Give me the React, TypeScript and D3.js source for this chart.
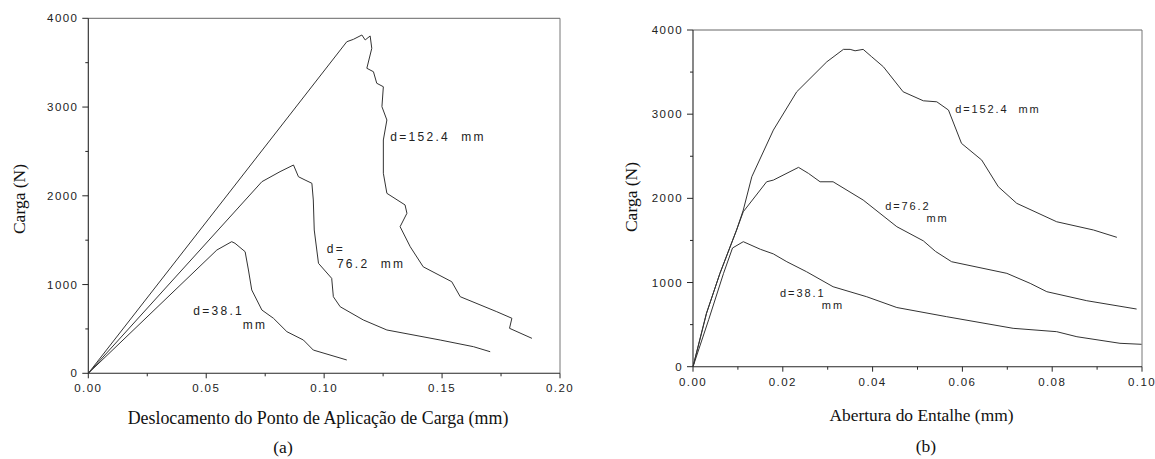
import React from 'react';
import * as d3 from 'd3';

// ---------- Panel (a): load vs. load-point displacement ----------
const dispA152 = [0, 0.1096, 0.1124, 0.1160, 0.1174, 0.1195, 0.1202, 0.1181, 0.1209, 0.1223, 0.1251, 0.1245, 0.1266, 0.1251, 0.1251, 0.1266, 0.1343, 0.1351, 0.1322, 0.1365, 0.1420, 0.1541, 0.1577, 0.1732, 0.1796, 0.1786, 0.1881];
const loadA152 = [0, 3736, 3763, 3812, 3756, 3801, 3662, 3437, 3398, 3268, 3229, 3004, 2854, 2629, 2254, 2028, 1897, 1803, 1652, 1426, 1200, 1032, 863, 694, 620, 507, 394];

const dispA76 = [0, 0.0736, 0.0813, 0.0870, 0.0891, 0.0919, 0.0948, 0.0954, 0.0958, 0.0976, 0.1032, 0.1039, 0.1068, 0.1166, 0.1266, 0.1492, 0.1633, 0.1704];
const loadA76 = [0, 2159, 2272, 2347, 2215, 2178, 2141, 1953, 1615, 1239, 1070, 863, 750, 601, 488, 375, 300, 243];

const dispA38 = [0, 0.0545, 0.0608, 0.0622, 0.0665, 0.0679, 0.0693, 0.0736, 0.0785, 0.0842, 0.0912, 0.0954, 0.1096];
const loadA38 = [0, 1389, 1483, 1465, 1370, 1164, 939, 713, 620, 469, 375, 262, 150];

// ---------- Panel (b): load vs. notch opening ----------
const openB152 = [0, 0.0030, 0.0060, 0.0097, 0.0112, 0.0131, 0.0179, 0.0231, 0.0298, 0.0335, 0.0350, 0.0361, 0.0379, 0.0398, 0.0424, 0.0468, 0.0513, 0.0543, 0.0569, 0.0598, 0.0643, 0.0680, 0.0721, 0.0810, 0.0892, 0.0944];
const loadB152 = [0, 634, 1109, 1623, 1861, 2257, 2811, 3266, 3622, 3770, 3770, 3753, 3770, 3682, 3563, 3266, 3159, 3147, 3049, 2653, 2455, 2138, 1941, 1722, 1624, 1537];

const openB76 = [0, 0.0030, 0.0060, 0.0097, 0.0112, 0.0164, 0.0179, 0.0235, 0.0257, 0.0283, 0.0312, 0.0379, 0.0454, 0.0513, 0.0540, 0.0576, 0.0699, 0.0751, 0.0788, 0.0877, 0.0988];
const loadB76 = [0, 634, 1109, 1623, 1841, 2197, 2217, 2368, 2297, 2197, 2197, 1980, 1663, 1495, 1370, 1247, 1109, 990, 891, 784, 685];

const openB38 = [0, 0.0035, 0.0068, 0.0088, 0.0112, 0.0150, 0.0179, 0.0209, 0.0253, 0.0312, 0.0387, 0.0454, 0.0565, 0.0713, 0.0810, 0.0855, 0.0951, 0.0999];
const loadB38 = [0, 560, 1109, 1410, 1485, 1395, 1340, 1247, 1128, 950, 831, 703, 594, 456, 416, 356, 278, 266];

// ---------- Axes ----------
const loadTicks = [0, 1000, 2000, 3000, 4000];
const loadTickLabels = ['0', '1000', '2000', '3000', '4000'];
const loadMinor = [500, 1500, 2500, 3500];

const dispTicks = [0, 0.05, 0.1, 0.15, 0.2];
const dispTickLabels = ['0.00', '0.05', '0.10', '0.15', '0.20'];
const dispMinor = [0.025, 0.075, 0.125, 0.175];

const openTicks = [0, 0.02, 0.04, 0.06, 0.08, 0.1];
const openTickLabels = ['0.00', '0.02', '0.04', '0.06', '0.08', '0.10'];
const openMinor = [0.01, 0.03, 0.05, 0.07, 0.09];

const TICK_FONT = '"Liberation Sans", Arial, sans-serif';
const TITLE_FONT = '"Liberation Serif", "Times New Roman", serif';
const INK = '#262626';

type Series = { xs: number[]; ys: number[] };
type Note = { x: number; y: number; text: string };

type PanelProps = {
  box: { left: number; right: number; top: number; bottom: number };
  xMax: number;
  xTicks: number[];
  xTickLabels: string[];
  xMinor: number[];
  series: Series[];
  notes: Note[];
  noteSize: number;
  noteSpacing: number;
  xTitle: string;
  xTitleX: number;
  xTitleY: number;
  titleSize: number;
  caption: string;
  captionX: number;
  captionY: number;
  yTitleX: number;
  yTitleY: number;
};

function Panel(p: PanelProps) {
  const { left, right, top, bottom } = p.box;
  const x = d3.scaleLinear().domain([0, p.xMax]).range([left, right]);
  const y = d3.scaleLinear().domain([0, 4000]).range([bottom, top]);
  const line = d3
    .line<[number, number]>()
    .x((d) => x(d[0]))
    .y((d) => y(d[1]))
    .curve(d3.curveLinear);

  return (
    <g>
      {/* frame */}
      <line x1={left} x2={right} y1={top} y2={top} stroke="#666" strokeWidth={1} />
      <line x1={right} x2={right} y1={top} y2={bottom} stroke="#777" strokeWidth={1} />
      <line x1={left} x2={left} y1={top} y2={bottom} stroke={INK} strokeWidth={1.1} />
      <line x1={left} x2={right} y1={bottom} y2={bottom} stroke={INK} strokeWidth={1.1} />

      {/* load axis */}
      {loadTicks.map((t, i) => (
        <g key={'yt' + t}>
          <line x1={left - 6} x2={left} y1={y(t)} y2={y(t)} stroke={INK} />
          <text
            x={left - 10}
            y={y(t)}
            dy="0.35em"
            textAnchor="end"
            fontFamily={TICK_FONT}
            fontSize={11.5}
            letterSpacing={1.4}
            fill="#222"
          >
            {loadTickLabels[i]}
          </text>
        </g>
      ))}
      {loadMinor.map((t) => (
        <line key={'ym' + t} x1={left - 3} x2={left} y1={y(t)} y2={y(t)} stroke={INK} />
      ))}

      {/* abscissa */}
      {p.xTicks.map((t, i) => (
        <g key={'xt' + t}>
          <line x1={x(t)} x2={x(t)} y1={bottom} y2={bottom + 5} stroke={INK} />
          <text
            x={x(t)}
            y={bottom + 15}
            dy="0.35em"
            textAnchor="middle"
            fontFamily={TICK_FONT}
            fontSize={11.5}
            letterSpacing={1.4}
            fill="#222"
          >
            {p.xTickLabels[i]}
          </text>
        </g>
      ))}
      {p.xMinor.map((t) => (
        <line key={'xm' + t} x1={x(t)} x2={x(t)} y1={bottom} y2={bottom + 3} stroke={INK} />
      ))}

      {/* curves */}
      {p.series.map((s, i) => (
        <path
          key={'s' + i}
          d={line(s.xs.map((v, j) => [v, s.ys[j]] as [number, number])) || ''}
          fill="none"
          stroke="#333"
          strokeWidth={1}
          strokeLinejoin="round"
        />
      ))}

      {/* curve annotations */}
      {p.notes.map((n, i) => (
        <text
          key={'n' + i}
          x={x(n.x)}
          y={y(n.y)}
          fontFamily={TICK_FONT}
          fontSize={p.noteSize}
          letterSpacing={p.noteSpacing}
          fill="#222"
          style={{ whiteSpace: 'pre' }}
        >
          {n.text}
        </text>
      ))}

      {/* titles */}
      <text
        transform={`translate(${p.yTitleX},${p.yTitleY}) rotate(-90)`}
        textAnchor="middle"
        fontFamily={TITLE_FONT}
        fontSize={17.5}
        fill="#111"
      >
        Carga (N)
      </text>
      <text x={p.xTitleX} y={p.xTitleY} textAnchor="middle" fontFamily={TITLE_FONT} fontSize={p.titleSize} fill="#111">
        {p.xTitle}
      </text>
      <text x={p.captionX} y={p.captionY} textAnchor="middle" fontFamily={TITLE_FONT} fontSize={17.5} fill="#111">
        {p.caption}
      </text>
    </g>
  );
}

export default function App() {
  return (
    <svg
      width={1155}
      height={459}
      viewBox="0 0 1155 459"
      style={{ position: 'absolute', left: 0, top: 0, background: '#fff' }}
    >
      <rect width={1155} height={459} fill="#fff" />
      <Panel
        box={{ left: 88.3, right: 560, top: 18.3, bottom: 373.3 }}
        xMax={0.2}
        xTicks={dispTicks}
        xTickLabels={dispTickLabels}
        xMinor={dispMinor}
        series={[
          { xs: dispA152, ys: loadA152 },
          { xs: dispA76, ys: loadA76 },
          { xs: dispA38, ys: loadA38 },
        ]}
        notes={[
          { x: 0.128, y: 2617, text: 'd=152.4  mm' },
          { x: 0.1011, y: 1355, text: 'd=' },
          { x: 0.1054, y: 1183, text: '76.2  mm' },
          { x: 0.0445, y: 657, text: 'd=38.1' },
          { x: 0.0655, y: 496, text: 'mm' },
        ]}
        noteSize={12}
        noteSpacing={2.3}
        xTitle="Deslocamento do Ponto de Aplicação de Carga (mm)"
        xTitleX={318}
        xTitleY={424}
        titleSize={17.9}
        caption="(a)"
        captionX={283}
        captionY={453}
        yTitleX={25}
        yTitleY={199}
      />
      <Panel
        box={{ left: 693, right: 1142, top: 30, bottom: 366.7 }}
        xMax={0.1}
        xTicks={openTicks}
        xTickLabels={openTickLabels}
        xMinor={openMinor}
        series={[
          { xs: openB152, ys: loadB152 },
          { xs: openB76, ys: loadB76 },
          { xs: openB38, ys: loadB38 },
        ]}
        notes={[
          { x: 0.0584, y: 3010, text: 'd=152.4  mm' },
          { x: 0.0428, y: 1861, text: 'd=76.2' },
          { x: 0.052, y: 1722, text: 'mm' },
          { x: 0.0194, y: 831, text: 'd=38.1' },
          { x: 0.0287, y: 682, text: 'mm' },
        ]}
        noteSize={11}
        noteSpacing={1.9}
        xTitle="Abertura do Entalhe (mm)"
        xTitleX={921.5}
        xTitleY={421}
        titleSize={17.4}
        caption="(b)"
        captionX={926}
        captionY={452}
        yTitleX={637}
        yTitleY={197}
      />
    </svg>
  );
}
